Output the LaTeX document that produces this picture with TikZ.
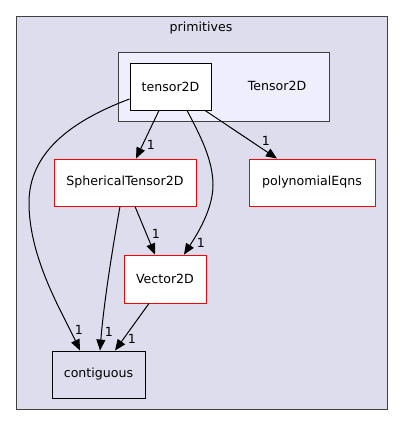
\documentclass[tikz,border=0pt]{standalone}
\usepackage{fontspec}
\setmainfont{DejaVu Sans}
\usetikzlibrary{arrows.meta}
\definecolor{bgdir}{HTML}{DDDDEE}
\definecolor{innerdir}{HTML}{EEEEFF}
\definecolor{framegray}{HTML}{404040}
\tikzset{
  dirbox/.style={draw=black, fill=white, line width=0.9pt, minimum height=47pt, inner sep=0pt, font=\fontsize{12.6}{14}\selectfont},
  redbox/.style={dirbox, draw=red},
  plainbox/.style={dirbox, fill=bgdir},
  dep/.style={draw=black, line width=1pt, -{Triangle[length=11pt,width=9pt]}},
  cnt/.style={font=\fontsize{12.6}{14}\selectfont, inner sep=0pt},
  lbl/.style={font=\fontsize{12.6}{14}\selectfont, inner sep=0pt}
}
\begin{document}
\begin{tikzpicture}[x=1pt,y=-1pt]
\useasboundingbox (0,0) rectangle (403,425);
% outer cluster
\node[draw=framegray, fill=bgdir, line width=1pt, minimum width=371pt, minimum height=393pt, inner sep=0pt, anchor=north west] (primbox) at (16,16) {};
\node[lbl] (primlbl) at (201,28) {primitives};
% inner cluster
\node[draw=framegray, fill=innerdir, line width=1pt, minimum width=211pt, minimum height=69pt, inner sep=0pt, anchor=north west] (tbox) at (118,52) {};
\node[lbl] (tlbl) at (277,86) {Tensor2D};
% nodes
\node[dirbox, minimum width=81pt] (tensor) at (170.5,86.5) {tensor2D};
\node[redbox, minimum width=142pt] (sph) at (125,182.5) {SphericalTensor2D};
\node[redbox, minimum width=126pt] (poly) at (312,182.5) {polynomialEqns};
\node[redbox, minimum width=82pt, minimum height=48pt] (vec) at (165,279) {Vector2D};
\node[plainbox, minimum width=93pt] (cont) at (98.5,374.5) {contiguous};
% edges
\draw[dep] (tensor.west |- 0,99) .. controls (60,125) and (28,160) .. (29,205) .. controls (30,260) and (62,312) .. (cont.north -| 80,0);
\draw[dep] (tensor.south -| 159,0) -- (sph.north -| 136,0);
\draw[dep] (tensor.south -| 187,0) .. controls (200,135) and (213,160) .. (213,185) .. controls (213,210) and (196,236) .. (vec.north -| 184,0);
\draw[dep] (tensor.south -| 205,0) -- (poly.north -| 277,0);
\draw[dep] (sph.south -| 135,0) -- (vec.north -| 155,0);
\draw[dep] (sph.south -| 120,0) .. controls (114,240) and (104,300) .. (cont.north -| 100,0);
\draw[dep] (vec.south -| 149,0) -- (cont.north -| 115,0);
% labels
\node[cnt] (l1) at (151,145) {1};
\node[cnt] (l2) at (266,141) {1};
\node[cnt] (l3) at (156,234) {1};
\node[cnt] (l4) at (201,243) {1};
\node[cnt] (l5) at (79,330) {1};
\node[cnt] (l6) at (109,332) {1};
\node[cnt] (l7) at (132,339) {1};
\end{tikzpicture}
\end{document}
